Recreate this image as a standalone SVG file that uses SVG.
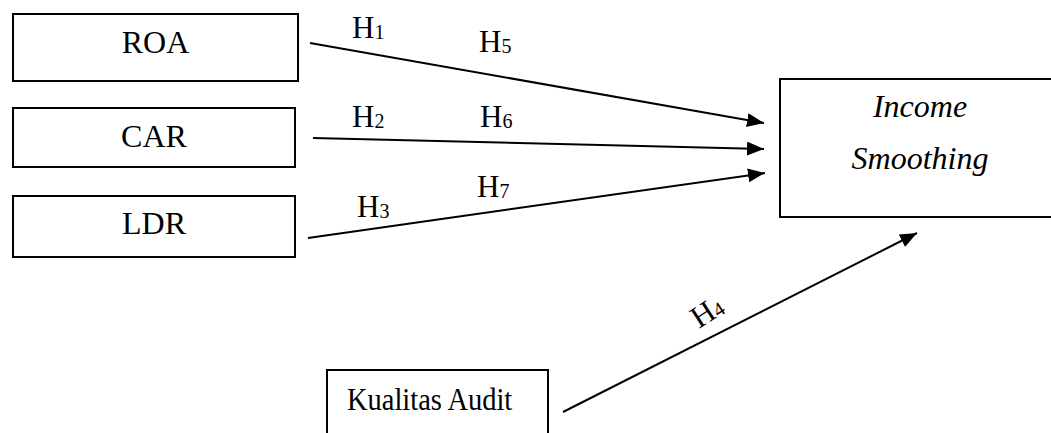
<svg xmlns="http://www.w3.org/2000/svg" width="1051" height="433" viewBox="0 0 1051 433">
<style>
.box{fill:#fff;stroke:#000;stroke-width:2}
.lbl{font-family:"Liberation Serif","Times New Roman",serif;font-size:32px;fill:#000}
.h{font-family:"Liberation Serif","Times New Roman",serif;font-size:31px;fill:#000}
.sub{font-size:20px}
.conn{stroke:#000;stroke-width:2;fill:none;marker-end:url(#arr)}
</style>
<defs>
<marker id="arr" markerUnits="userSpaceOnUse" markerWidth="18" markerHeight="15" refX="17" refY="7" orient="auto">
<path d="M0,0 L17,7 L0,14 z" fill="#000"/>
</marker>
</defs>
<rect width="1051" height="433" fill="#fff"/>
<g id="roa">
<rect class="box" x="13" y="14" width="285" height="67"/>
<text class="lbl" x="155.5" y="53" text-anchor="middle">ROA</text>
</g>
<g id="car">
<rect class="box" x="13" y="108" width="282" height="59"/>
<text class="lbl" x="154" y="147" text-anchor="middle">CAR</text>
</g>
<g id="ldr">
<rect class="box" x="13" y="196" width="282" height="61"/>
<text class="lbl" x="154" y="234" text-anchor="middle">LDR</text>
</g>
<g id="income">
<rect class="box" x="780" y="79" width="300" height="138"/>
<text class="lbl" x="920" y="117" text-anchor="middle" font-style="italic">Income</text>
<text class="lbl" x="920" y="169" text-anchor="middle" font-style="italic">Smoothing</text>
</g>
<g id="audit">
<path class="box" d="M327,440 V370 H548 V440"/>
<text class="lbl" x="0" y="0" transform="translate(347,410) scale(0.89,1)">Kualitas Audit</text>
</g>
<g id="connectors">
<line class="conn" x1="310" y1="43" x2="764" y2="123"/>
<line class="conn" x1="313" y1="138" x2="764" y2="149"/>
<line class="conn" x1="308" y1="238" x2="765" y2="173"/>
<line class="conn" x1="563" y1="412" x2="917" y2="233"/>
</g>
<g id="labels">
<text class="h" x="352" y="38">H<tspan class="sub" dy="1">1</tspan></text>
<text class="h" x="479" y="52">H<tspan class="sub" dy="1">5</tspan></text>
<text class="h" x="352" y="127">H<tspan class="sub" dy="1">2</tspan></text>
<text class="h" x="480" y="127">H<tspan class="sub" dy="1">6</tspan></text>
<text class="h" x="357" y="217">H<tspan class="sub" dy="1">3</tspan></text>
<text class="h" x="477" y="197">H<tspan class="sub" dy="1">7</tspan></text>
<text class="h" x="0" y="0" transform="translate(699,329) rotate(-33)">H<tspan class="sub" dy="1">4</tspan></text>
</g>
</svg>
